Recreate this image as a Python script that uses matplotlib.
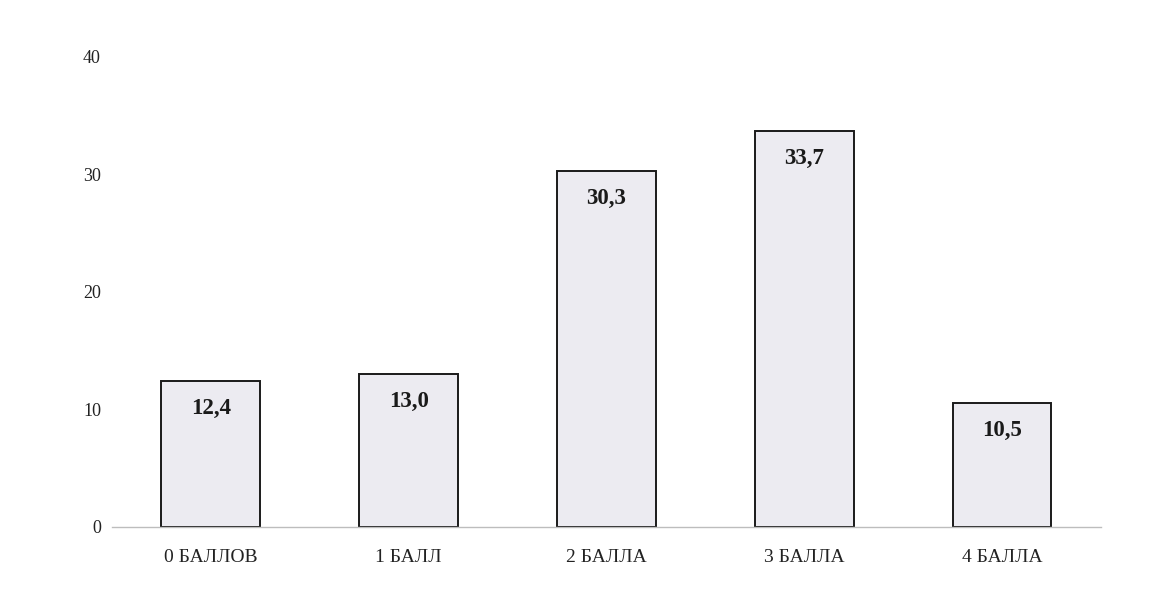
import matplotlib.pyplot as plt

# data
categories = ['0 БАЛЛОВ', '1 БАЛЛ', '2 БАЛЛА', '3 БАЛЛА', '4 БАЛЛА']
values = [12.4, 13.0, 30.3, 33.7, 10.5]
labels = ['12,4', '13,0', '30,3', '33,7', '10,5']
yticks = [0, 10, 20, 30, 40]

plt.rcParams['font.family'] = ['Liberation Serif', 'DejaVu Serif']

fig = plt.figure(figsize=(11.73, 6), dpi=100)
ax = fig.add_axes([0.0955, 0.122, 0.843, 0.783])

x = range(len(categories))
bars = ax.bar(x, values, width=0.5, color='#ecebf1', edgecolor='#1a1a1a', linewidth=1.4, zorder=2)

for b, lab in zip(bars, labels):
    ax.annotate(lab, (b.get_x() + b.get_width() / 2, b.get_height()),
                xytext=(0, -12), textcoords='offset points',
                ha='center', va='top', fontsize=16.5, fontweight='bold', color='#1a1a1a')

ax.set_xlim(-0.5, len(categories) - 0.5)
ax.set_ylim(0, 40)
ax.set_xticks(list(x))
ax.set_xticklabels(categories)
ax.set_yticks(yticks)
ax.tick_params(axis='x', length=0, pad=16, labelsize=14, colors='#222222')
ax.tick_params(axis='y', length=0, pad=8, labelsize=13, colors='#222222')

for s in ['top', 'right', 'left']:
    ax.spines[s].set_visible(False)
ax.spines['bottom'].set_color('#bdbdbd')
ax.spines['bottom'].set_linewidth(1.0)

fig.savefig('out.png', dpi=100)
